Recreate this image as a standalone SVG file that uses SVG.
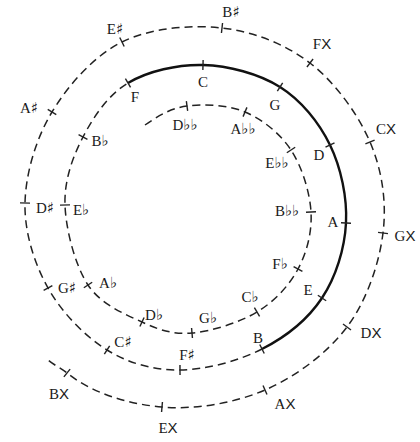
<svg xmlns="http://www.w3.org/2000/svg" xmlns:xlink="http://www.w3.org/1999/xlink" width="420" height="442" viewBox="0 0 420 442">
<style>
.bg{fill:#fff}
.dash{fill:none;stroke:#222;stroke-width:1.5;stroke-dasharray:8 5}
.solid{fill:none;stroke:#111;stroke-width:2.4}
.tick{stroke:#222;stroke-width:1.4}
text{font-family:"Liberation Serif","DejaVu Serif",serif;font-size:15px;fill:#1a1a1a;text-anchor:middle}
.x{font-family:"Liberation Sans","DejaVu Sans",sans-serif}
.a{font-family:"DejaVu Sans",sans-serif;font-size:15px;fill:#111}
</style>
<defs>
<line id="tk" class="tick" x1="0" y1="-5" x2="0" y2="5"/>
</defs>
<rect class="bg" width="420" height="442"/>
<g id="connectors">
<path id="spiral-inner" class="dash" d="M145,125 C157.4,116.5 170.33,108.17 187,106 C203.67,103.83 227.67,104.67 245,112 C262.33,119.33 280,133.33 291,150 C302,166.67 309.83,192.17 311,212 C312.17,231.83 307,252.33 298,269 C289,285.67 274.67,301.33 257,312 C239.33,322.67 211.17,331.33 192,333 C172.83,334.67 159.33,330 142,322 C124.67,314 100.83,304.5 88,285 C75.17,265.5 65.83,229.67 65,205 C64.17,180.33 72.5,157.33 83,137 C93.5,116.67 108,95 128,83"/>
<path id="spiral-naturals" class="solid" d="M128,83 C148,71 177.67,64.33 203,65 C228.33,65.67 258.83,73.67 280,87 C301.17,100.33 319,122.33 330,145 C341,167.67 347.33,197.5 346,223 C344.67,248.5 336,277 322,298 C308,319 285.67,337 262,349"/>
<path id="spiral-outer" class="dash" d="M262,349 C238.33,361 205.83,369.83 180,370 C154.17,370.17 129,363.67 107,350 C85,336.33 61.67,312.5 48,288 C34.33,263.5 24.33,232.33 25,203 C25.67,173.67 35.83,138.83 52,112 C68.17,85.17 93.67,56 122,42 C150.33,28 190.67,24.5 222,28 C253.33,31.5 285.33,44 310,63 C334.67,82 357.83,113.67 370,142 C382.17,170.33 386.83,202.17 383,233 C379.17,263.83 366.67,300.83 347,327 C327.33,353.17 295.83,376.67 265,390 C234.17,403.33 195,409.83 162,407 C129,404.17 92.8,393.6 67,373 C60.4,367.7 51.9,364.1 46,358"/>
</g>
<g id="n-Dbb"><use xlink:href="#tk" transform="translate(187,106) rotate(-7.4)"/><text x="185" y="130">D<tspan class="a">♭♭</tspan></text></g>
<g id="n-Abb"><use xlink:href="#tk" transform="translate(245,112) rotate(22.9)"/><text x="243" y="134">A<tspan class="a">♭♭</tspan></text></g>
<g id="n-Ebb"><use xlink:href="#tk" transform="translate(291,150) rotate(56.6)"/><text x="277" y="168">E<tspan class="a">♭♭</tspan></text></g>
<g id="n-Bbb"><use xlink:href="#tk" transform="translate(311,212) rotate(86.6)"/><text x="287" y="216">B<tspan class="a">♭♭</tspan></text></g>
<g id="n-Fb"><use xlink:href="#tk" transform="translate(298,269) rotate(118.4)"/><text x="280" y="269">F<tspan class="a">♭</tspan></text></g>
<g id="n-Cb"><use xlink:href="#tk" transform="translate(257,312) rotate(148.9)"/><text x="250" y="302">C<tspan class="a">♭</tspan></text></g>
<g id="n-Gb"><use xlink:href="#tk" transform="translate(192,333) rotate(175)"/><text x="208" y="323">G<tspan class="a">♭</tspan></text></g>
<g id="n-Db"><use xlink:href="#tk" transform="translate(142,322) rotate(-155.2)"/><text x="154" y="320">D<tspan class="a">♭</tspan></text></g>
<g id="n-Ab"><use xlink:href="#tk" transform="translate(88,285) rotate(-123.3)"/><text x="108" y="288">A<tspan class="a">♭</tspan></text></g>
<g id="n-Eb"><use xlink:href="#tk" transform="translate(65,205) rotate(-91.9)"/><text x="81" y="215">E<tspan class="a">♭</tspan></text></g>
<g id="n-Bb"><use xlink:href="#tk" transform="translate(83,137) rotate(-62.7)"/><text x="100" y="146">B<tspan class="a">♭</tspan></text></g>
<g id="n-F"><use xlink:href="#tk" transform="translate(128,83) rotate(-31)"/><text x="135" y="102">F</text></g>
<g id="n-C"><use xlink:href="#tk" transform="translate(203,65) rotate(1.5)"/><text x="203" y="87">C</text></g>
<g id="n-G"><use xlink:href="#tk" transform="translate(280,87) rotate(32.2)"/><text x="275" y="110">G</text></g>
<g id="n-D"><use xlink:href="#tk" transform="translate(330,145) rotate(64.1)"/><text x="319" y="160">D</text></g>
<g id="n-A"><use xlink:href="#tk" transform="translate(346,223) rotate(93)"/><text x="333" y="227">A</text></g>
<g id="n-E"><use xlink:href="#tk" transform="translate(322,298) rotate(123.7)"/><text x="308" y="295">E</text></g>
<g id="n-B"><use xlink:href="#tk" transform="translate(262,349) rotate(153.1)"/><text x="258" y="343">B</text></g>
<g id="n-Fs"><use xlink:href="#tk" transform="translate(180,370) rotate(179.6)"/><text x="187" y="360">F<tspan class="a">♯</tspan></text></g>
<g id="n-Cs"><use xlink:href="#tk" transform="translate(107,350) rotate(-148.1)"/><text x="123" y="347">C<tspan class="a">♯</tspan></text></g>
<g id="n-Gs"><use xlink:href="#tk" transform="translate(48,288) rotate(-119.2)"/><text x="67" y="293">G<tspan class="a">♯</tspan></text></g>
<g id="n-Ds"><use xlink:href="#tk" transform="translate(25,203) rotate(-88.7)"/><text x="45" y="213">D<tspan class="a">♯</tspan></text></g>
<g id="n-As"><use xlink:href="#tk" transform="translate(52,112) rotate(-58.9)"/><text x="29" y="113">A<tspan class="a">♯</tspan></text></g>
<g id="n-Es"><use xlink:href="#tk" transform="translate(122,42) rotate(-26.3)"/><text x="115" y="34">E<tspan class="a">♯</tspan></text></g>
<g id="n-Bs"><use xlink:href="#tk" transform="translate(222,28) rotate(6.4)"/><text x="231" y="17">B<tspan class="a">♯</tspan></text></g>
<g id="n-Fx"><use xlink:href="#tk" transform="translate(310,63) rotate(37.6)"/><text x="322" y="49">F<tspan class="x">X</tspan></text></g>
<g id="n-Cx"><use xlink:href="#tk" transform="translate(370,142) rotate(66.8)"/><text x="386" y="134">C<tspan class="x">X</tspan></text></g>
<g id="n-Gx"><use xlink:href="#tk" transform="translate(383,233) rotate(97.1)"/><text x="405" y="241">G<tspan class="x">X</tspan></text></g>
<g id="n-Dx"><use xlink:href="#tk" transform="translate(347,327) rotate(126.9)"/><text x="371" y="338">D<tspan class="x">X</tspan></text></g>
<g id="n-Ax"><use xlink:href="#tk" transform="translate(265,390) rotate(156.6)"/><text x="285" y="409">A<tspan class="x">X</tspan></text></g>
<g id="n-Ex"><use xlink:href="#tk" transform="translate(162,407) rotate(-175.1)"/><text x="168" y="433">E<tspan class="x">X</tspan></text></g>
<g id="n-Bx"><use xlink:href="#tk" transform="translate(67,373) rotate(-141.4)"/><text x="59" y="399">B<tspan class="x">X</tspan></text></g>
</svg>
